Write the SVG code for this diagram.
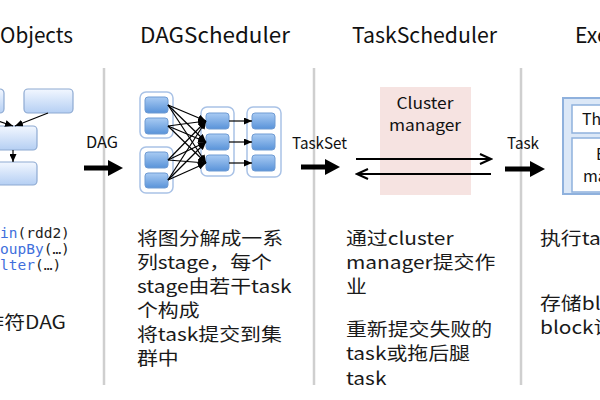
<svg xmlns="http://www.w3.org/2000/svg" width="600" height="400" viewBox="0 0 600 400">
<style>
.title{font-family:"Noto Sans CJK SC","Liberation Sans",sans-serif;font-size:21px;fill:#111}
.lbl{font-family:"Noto Sans CJK SC","Liberation Sans",sans-serif;font-size:16px;fill:#111}
.body{font-family:"Noto Sans CJK SC","Liberation Sans",sans-serif;font-size:18px;fill:#1a1a1a}
.code{font-family:"DejaVu Sans Mono","Liberation Mono",monospace;font-size:14.5px;fill:#222}
.kw{fill:#3f6fdc}
.sep{stroke:#cfcfcf;stroke-width:2.5}
.rdd{fill:url(#gRdd);stroke:#8eaad2;stroke-width:1.2}
.blk{fill:url(#gBlk);stroke:#6f9bd3;stroke-width:1}
.grp{fill:#fff;stroke:#a9c2e6;stroke-width:1.5}
.thin{stroke:#000;stroke-width:1.2;fill:none;marker-end:url(#ah)}
.thick{fill:#000}
.cm{stroke:#000;stroke-width:2;fill:none;marker-end:url(#open)}
.ex{fill:#fff;stroke:#8fb1dd;stroke-width:1.5}
</style>
<defs>
<linearGradient id="gRdd" x1="0" y1="0" x2="0" y2="1"><stop offset="0" stop-color="#f2f7ff"/><stop offset="1" stop-color="#b5cff3"/></linearGradient>
<linearGradient id="gBlk" x1="0" y1="0" x2="0" y2="1"><stop offset="0" stop-color="#a9cbf3"/><stop offset="1" stop-color="#5993d9"/></linearGradient>
<marker id="ah" markerUnits="userSpaceOnUse" markerWidth="8" markerHeight="7" refX="8" refY="3.5" orient="auto"><path d="M0,0 L8,3.5 L0,7 z" fill="#000"/></marker>
<marker id="open" markerUnits="userSpaceOnUse" markerWidth="14" markerHeight="12" refX="12" refY="6" orient="auto"><path d="M1,1 L12,6 L1,11" fill="none" stroke="#000" stroke-width="2"/></marker>
</defs>
<rect width="600" height="400" fill="#fff"/>

<g id="separators">
<line class="sep" x1="104" y1="68" x2="104" y2="385"/>
<line class="sep" x1="314" y1="68" x2="314" y2="385"/>
<line class="sep" x1="521" y1="68" x2="521" y2="385"/>
</g>

<g id="titles">
<text class="title" x="0" y="43" textLength="73" lengthAdjust="spacingAndGlyphs">Objects</text>
<text class="title" x="140" y="43" textLength="150" lengthAdjust="spacingAndGlyphs">DAGScheduler</text>
<text class="title" x="352" y="43" textLength="145" lengthAdjust="spacingAndGlyphs">TaskScheduler</text>
<text class="title" x="575" y="43" textLength="86" lengthAdjust="spacingAndGlyphs">Executor</text>
</g>

<g id="rdd-objects">
<rect class="rdd" x="-20" y="89" width="24" height="24" rx="4"/>
<rect class="rdd" x="24" y="89" width="49" height="24" rx="4"/>
<rect class="rdd" x="-20" y="126" width="57" height="24" rx="4"/>
<rect class="rdd" x="-20" y="162" width="57" height="23" rx="4"/>
</g>

<g id="code">
<text class="code" x="0" y="238"><tspan class="kw">in</tspan>(rdd2)</text>
<text class="code" x="0" y="254"><tspan class="kw">oupBy</tspan>(…)</text>
<text class="code" x="0" y="270"><tspan class="kw">lter</tspan>(…)</text>
<g transform="translate(66,0) scale(1.16,1)"><text class="body" x="0" y="329" text-anchor="end">作符DAG</text></g>
</g>

<g id="dag-stages">
<rect class="grp" x="140" y="92" width="33" height="46" rx="6"/>
<rect class="grp" x="140" y="147" width="33" height="46" rx="6"/>
<rect class="grp" x="201" y="107" width="33" height="69" rx="6"/>
<rect class="grp" x="247" y="107" width="34" height="70" rx="6"/>
<rect class="blk" x="145" y="97" width="23" height="16" rx="3"/>
<rect class="blk" x="145" y="118" width="23" height="16" rx="3"/>
<rect class="blk" x="145" y="152" width="23" height="16" rx="3"/>
<rect class="blk" x="145" y="173" width="23" height="15" rx="3"/>
<rect class="blk" x="206" y="113" width="23" height="16" rx="3"/>
<rect class="blk" x="206" y="134" width="23" height="16" rx="3"/>
<rect class="blk" x="206" y="155" width="23" height="16" rx="3"/>
<rect class="blk" x="252" y="113" width="23" height="16" rx="3"/>
<rect class="blk" x="252" y="134" width="23" height="16" rx="3"/>
<rect class="blk" x="252" y="155" width="23" height="16" rx="3"/>
</g>

<g id="cluster-manager">
<rect x="380" y="87" width="91" height="108" fill="#f6e3e1"/>
<text class="lbl" x="425" y="109" text-anchor="middle" font-size="17" textLength="57" lengthAdjust="spacingAndGlyphs">Cluster</text>
<text class="lbl" x="425" y="131" text-anchor="middle" font-size="17" textLength="72" lengthAdjust="spacingAndGlyphs">manager</text>
</g>

<g id="executor">
<rect x="563" y="98" width="60" height="96" fill="#dce8f7" stroke="#8fb1dd" stroke-width="2"/>
<rect class="ex" x="572" y="105" width="60" height="28"/>
<rect class="ex" x="572" y="138" width="60" height="54"/>
<text class="lbl" x="582" y="125" font-size="16">Thread Pool</text>
<text class="lbl" x="596" y="160" font-size="16">Block</text>
<text class="lbl" x="583" y="182" font-size="16">manager</text>
</g>

<g id="connectors">
<line class="thin" x1="-2" y1="121" x2="13" y2="126"/>
<line class="thin" x1="48" y1="113" x2="15" y2="126"/>
<line class="thin" x1="13" y1="150" x2="13" y2="162"/>

<line class="thin" x1="168" y1="105" x2="206" y2="121"/>
<line class="thin" x1="168" y1="105" x2="206" y2="142"/>
<line class="thin" x1="168" y1="105" x2="206" y2="163"/>
<line class="thin" x1="168" y1="126" x2="206" y2="121"/>
<line class="thin" x1="168" y1="126" x2="206" y2="142"/>
<line class="thin" x1="168" y1="126" x2="206" y2="163"/>
<line class="thin" x1="168" y1="160" x2="206" y2="121"/>
<line class="thin" x1="168" y1="160" x2="206" y2="142"/>
<line class="thin" x1="168" y1="160" x2="206" y2="163"/>
<line class="thin" x1="168" y1="180" x2="206" y2="121"/>
<line class="thin" x1="168" y1="180" x2="206" y2="142"/>
<line class="thin" x1="168" y1="180" x2="206" y2="163"/>
<line class="thin" x1="229" y1="121" x2="252" y2="121"/>
<line class="thin" x1="229" y1="142" x2="252" y2="142"/>
<line class="thin" x1="229" y1="163" x2="252" y2="163"/>

<polygon class="thick" points="84,165.5 108,165.5 108,160 123,168 108,176 108,170.5 84,170.5"/>
<polygon class="thick" points="301,164.5 325,164.5 325,159 340,167 325,175 325,169.5 301,169.5"/>
<polygon class="thick" points="505,166.5 530,166.5 530,161 545,169 530,177 530,171.5 505,171.5"/>

<line class="cm" x1="356" y1="159" x2="491" y2="159"/>
<line class="cm" x1="491" y1="174" x2="357" y2="174"/>

<text class="lbl" x="86" y="148" textLength="32" lengthAdjust="spacingAndGlyphs">DAG</text>
<text class="lbl" x="292" y="149" textLength="55" lengthAdjust="spacingAndGlyphs">TaskSet</text>
<text class="lbl" x="507" y="149" textLength="32" lengthAdjust="spacingAndGlyphs">Task</text>
</g>

<g id="dag-text" transform="translate(137,0) scale(1.16,1)">
<text class="body" x="0" y="245">将图分解成一系</text>
<text class="body" x="0" y="269">列stage，每个</text>
<text class="body" x="0" y="293">stage由若干task</text>
<text class="body" x="0" y="317">个构成</text>
<text class="body" x="0" y="341">将task提交到集</text>
<text class="body" x="0" y="365">群中</text>
</g>

<g id="task-text" transform="translate(346,0) scale(1.16,1)">
<text class="body" x="0" y="245">通过cluster</text>
<text class="body" x="0" y="269">manager提交作</text>
<text class="body" x="0" y="293">业</text>
<text class="body" x="0" y="336">重新提交失败的</text>
<text class="body" x="0" y="360">task或拖后腿</text>
<text class="body" x="0" y="385">task</text>
</g>

<g id="exec-text" transform="translate(540,0) scale(1.16,1)">
<text class="body" x="0" y="245">执行task</text>
<text class="body" x="0" y="310">存储block</text>
<text class="body" x="0" y="334">block读写</text>
</g>
</svg>
